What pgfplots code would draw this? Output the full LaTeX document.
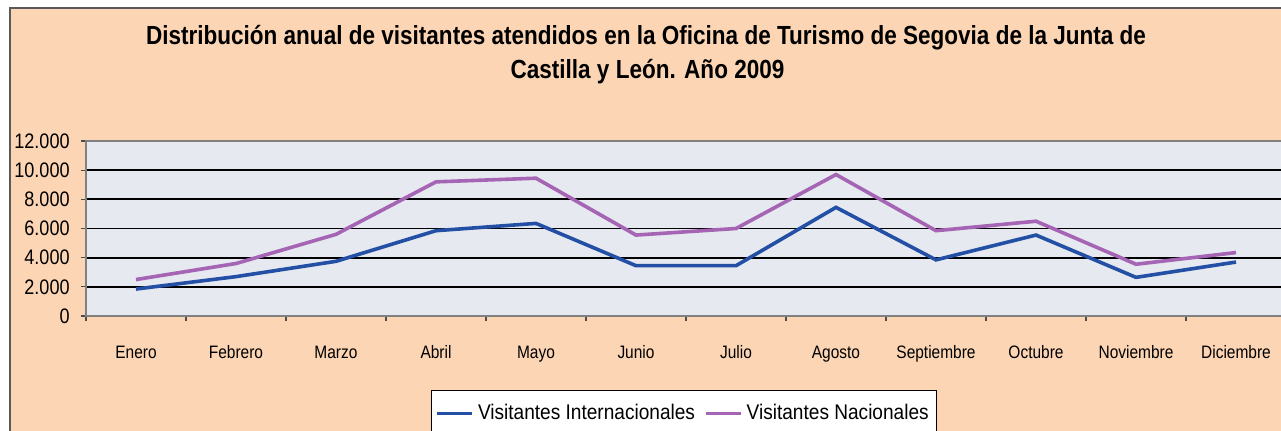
\documentclass[border=0pt]{standalone}
\usepackage{fontspec}
\setmainfont{Liberation Sans}[FakeStretch=0.86]
\newfontfamily\legfont{Liberation Sans}[FakeStretch=0.9]
\usepackage{pgfplots}
\pgfplotsset{compat=1.18}
\definecolor{fondo}{RGB}{252,213,181}
\definecolor{areagraf}{RGB}{230,233,240}
\definecolor{azul}{RGB}{35,80,165}
\definecolor{morado}{RGB}{165,100,180}

\begin{document}
\begin{tikzpicture}
\path[use as bounding box] (0,0) rectangle (640.5pt,-215pt);
\clip (0,0) rectangle (640.5pt,-215pt);
\fill[white] (0,0) rectangle (640.5pt,-215pt);
\draw[gray!70!black, fill=fondo, line width=0.6pt] (5pt,-4pt) rectangle (700pt,-300pt);
\node[anchor=base, font=\bfseries\fontsize{13.1}{15}\selectfont, inner sep=0pt]
  at (323pt,-22pt) {Distribución anual de visitantes atendidos en la Oficina de Turismo de Segovia de la Junta de};
\node[anchor=base, font=\bfseries\fontsize{13.1}{15}\selectfont, inner sep=0pt]
  at (323.75pt,-39pt) {Castilla y León. Año 2009};
\begin{axis}[
  at={(43pt,-158pt)}, anchor=south west,
  width=600pt, height=87.5pt, scale only axis,
  xmin=-0.5, xmax=11.5, ymin=0, ymax=12000,
  axis background/.style={fill=areagraf},
  axis line style={gray, line width=0.6pt},
  tick pos=left, tick align=outside,
  major tick length=2.5pt, minor tick length=2.5pt,
  xtick={0,...,11},
  xticklabels={Enero,Febrero,Marzo,Abril,Mayo,Junio,Julio,Agosto,Septiembre,Octubre,Noviembre,Diciembre},
  minor xtick={-0.5,0.5,...,11.5},
  major x tick style={draw=none},
  minor x tick style={black!70, line width=0.6pt},
  major y tick style={black!70, line width=0.6pt},
  ytick={0,2000,...,12000},
  scaled y ticks=false,
  /pgf/number format/assume math mode=true,
  yticklabel style={/pgf/number format/1000 sep={.}, anchor=east, inner sep=0pt, xshift=-5.5pt,
    font=\fontsize{10.5}{12}\selectfont},
  xticklabel style={anchor=base, inner sep=0pt, yshift=-18.5pt, font=\fontsize{9}{11}\selectfont},
  ymajorgrids, major grid style={black, line width=0.9pt},
  legend columns=2,
  legend style={at={(0.2875,-0.4229)}, anchor=north west, draw=black, fill=white,
    font=\legfont\fontsize{10.6}{12}\selectfont, inner xsep=2pt, inner ysep=5pt,
    /tikz/every even column/.append style={column sep=2.5pt}},
  legend image code/.code={\draw[#1] (0pt,0pt) -- (17.5pt,0pt);},
]
\addplot[azul, line width=1.8pt] coordinates {
(0,1850)(1,2700)(2,3750)(3,5850)(4,6350)(5,3450)(6,3450)(7,7450)(8,3850)(9,5550)(10,2650)(11,3700)};
\addlegendentry{Visitantes Internacionales}
\addplot[morado, line width=1.8pt] coordinates {
(0,2500)(1,3600)(2,5600)(3,9200)(4,9450)(5,5550)(6,6000)(7,9700)(8,5850)(9,6500)(10,3550)(11,4350)};
\addlegendentry{Visitantes Nacionales}
\end{axis}
\end{tikzpicture}
\end{document}
